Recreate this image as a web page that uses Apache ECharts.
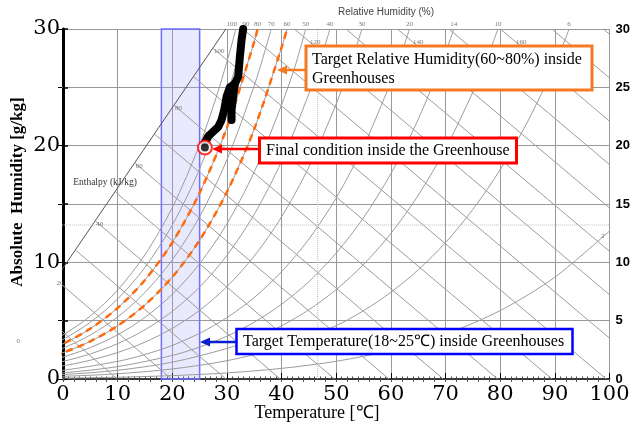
<!DOCTYPE html>
<html>
<head>
<meta charset="utf-8">
<script src="https://cdn.jsdelivr.net/npm/echarts@6/dist/echarts.min.js"></script>
<style>
  html, body { margin: 0; padding: 0; background: #fff; }
  #chart { width: 633px; height: 430px; }
</style>
</head>
<body>
<div id="chart"></div>
<script>
// relative humidity curves [temperature C, absolute humidity g/kg]
const rh100 = [[-10,1.76],[-5,2.60],[0,3.78],[5,5.40],[10,7.63],[15,10.65],[20,14.70],[25,20.08],[28,24.10],[30,27.20],[31,28.88],[31.6,30]]
const rh90 = [[-10,1.59],[-5,2.34],[0,3.40],[5,4.86],[10,6.86],[15,9.57],[20,13.20],[25,18.02],[30,24.38],[32,27.45],[33.5,30]]
const rh80 = [[-10,1.41],[-5,2.08],[0,3.02],[5,4.32],[10,6.09],[15,8.49],[20,11.70],[25,15.96],[30,21.57],[35,28.92],[35.6,30]]
const rh70 = [[-10,1.24],[-5,1.82],[0,2.64],[5,3.77],[10,5.32],[15,7.42],[20,10.21],[25,13.92],[30,18.80],[35,25.16],[37,28.21],[38.1,30]]
const rh60 = [[-10,1.06],[-5,1.56],[0,2.26],[5,3.23],[10,4.56],[15,6.35],[20,8.74],[25,11.90],[30,16.04],[35,21.44],[40,28.43],[41,30]]
const rh50 = [[-10,0.88],[-5,1.30],[0,1.88],[5,2.69],[10,3.79],[15,5.28],[20,7.26],[25,9.88],[30,13.31],[35,17.76],[40,23.51],[42.5,26.86],[44.4,30]]
const rh40 = [[-10,0.71],[-5,1.04],[0,1.51],[5,2.15],[10,3.03],[15,4.22],[20,5.80],[25,7.88],[30,10.60],[35,14.13],[40,18.67],[45,24.47],[47,27.19],[48.85,30]]
const rh30 = [[-10,0.53],[0,1.13],[5,1.61],[10,2.27],[15,3.16],[20,4.34],[25,5.89],[30,7.92],[35,10.54],[40,13.90],[45,18.18],[50,23.60],[52.5,26.83],[54.7,30]]
const rh20 = [[-10,0.35],[0,0.75],[10,1.51],[15,2.10],[20,2.88],[25,3.92],[30,5.26],[35,6.99],[40,9.20],[45,12.00],[50,15.54],[55,19.96],[60,25.47],[62,28.02],[63.4,30]]
const rh14 = [[-10,0.25],[0,0.53],[10,1.06],[20,2.02],[25,2.74],[30,3.67],[35,4.87],[40,6.41],[45,8.35],[50,10.80],[55,13.83],[60,17.61],[65,22.27],[70,28.00],[71.5,30]]
const rh10 = [[-10,0.18],[0,0.38],[10,0.75],[20,1.44],[30,2.62],[35,3.47],[40,4.56],[45,5.94],[50,7.67],[55,9.82],[60,12.48],[65,15.75],[70,19.75],[75,24.60],[77.5,27.43],[79.6,30]]
const rh6 = [[-10,0.11],[0,0.23],[10,0.45],[20,0.86],[30,1.57],[40,2.73],[50,4.58],[55,5.86],[60,7.43],[65,9.36],[70,11.70],[75,14.54],[80,17.95],[85,22.05],[90,26.93],[92.6,30]]
const rh2 = [[-10,0.04],[0,0.08],[10,0.15],[20,0.29],[30,0.52],[40,0.91],[50,1.52],[60,2.46],[70,3.85],[80,5.87],[90,8.73],[100,12.69]]
const rhLevels = ['100','90','80','70','60','50','40','30','20','14','10','6','2']
const rhCurves = [rh100, rh90, rh80, rh70, rh60, rh50, rh40, rh30, rh20, rh14, rh10, rh6, rh2]

// enthalpy lines (kJ/kg): upper end (scale line / top edge) and lower end
const enthalpyValues = [0,10,20,30,40,50,60,70,80,90,100,110,120,130,140,150,160,170,180]
const enthalpyTop = [[-8.6,3.46],[-4.92,6.00],[-1.28,8.51],[2.37,11.02],[6.00,13.52],[9.63,16.01],[13.22,18.49],[16.82,20.96],[20.40,23.43],[23.97,25.88],[27.52,28.32],
  [32.93,30],[42.35,30],[51.77,30],[61.19,30],[70.61,30],[80.03,30],[89.45,30],[98.87,30]]
const enthalpyBottom = [[0,0],[9.94,0],[19.88,0],[29.82,0],[39.76,0],[49.70,0],[59.64,0],[69.58,0],[79.52,0],[89.46,0],[99.40,0],
  [100,3.50],[100,7.22],[100,10.94],[100,14.66],[100,18.38],[100,22.10],[100,25.80],[100,29.55]]
const enthalpyScale = [[-10.2,2.5],[29.8,30]]

// measured greenhouse trajectory
const trajMain = [[32.96,30],[32.67,29.05],[32.36,27.6],[32.05,25.9],[31.44,25.3],[30.53,25.0],[29.93,24.2],[29.49,23.05],[29.01,22.2],[28.39,21.6],[27.48,21.2],[26.56,20.8],[25.96,20.25]]
const trajBranch = [[31.44,25.3],[31.13,24.2],[30.84,23.05],[30.84,22.2]]
const finalPoint = [25.96, 19.84]

const targetTemp = [18, 25]
const targetRH = ['80', '60']

const gray = '#9c9c9c'
const orange = '#F47A22'

function curve(data, extra) {
  return Object.assign({
    type: 'line', data: data, symbol: 'none', silent: true, clip: false,
    smooth: 0.3,
    lineStyle: { color: gray, width: 1 }, z: 2
  }, extra || {})
}

const series = []
rhCurves.forEach(c => series.push(curve(c)))
enthalpyValues.forEach((h, i) => series.push(curve([enthalpyBottom[i], enthalpyTop[i]], { smooth: false })))
series.push(curve(enthalpyScale, { smooth: false, lineStyle: { color: '#555', width: 1 } }))
// extension of horizontal grid + dotted lines of the base chart
;[5, 15, 25].forEach(w => series.push(curve([[-10, w], [0, w]], { smooth: false, lineStyle: { color: '#888', width: 1 } })))
series.push(curve([[46.6, 0], [46.6, 30]], { smooth: false, lineStyle: { color: '#bbb', width: 1, type: 'dotted' } }))
series.push(curve([[-6, 13.2], [100, 13.2]], { smooth: false, lineStyle: { color: '#bbb', width: 1, type: 'dotted' } }))

// rh labels at the top edge
series.push({
  type: 'scatter', silent: true, symbolSize: 1, itemStyle: { color: 'transparent' }, z: 3,
  data: rhCurves.map((c, i) => {
    const p = c[c.length - 1]
    const item = { value: p, name: rhLevels[i] }
    if (rhLevels[i] === '2') item.label = { position: [-8, 2] }
    if (rhLevels[i] === '100') item.label = { offset: [-4, 0] }
    return item
  }),
  label: { show: true, position: 'top', distance: 1, formatter: '{b}', fontSize: 7, color: '#555', fontFamily: 'Liberation Serif' }
})
// enthalpy labels
series.push({
  type: 'scatter', silent: true, symbolSize: 1, itemStyle: { color: 'transparent' }, z: 3, clip: false,
  data: enthalpyValues.map((h, i) => ({ value: enthalpyTop[i], name: String(h) })).filter(d => +d.name % 20 === 0 && +d.name <= 100),
  label: { show: true, position: [1, 0], formatter: '{b}', fontSize: 7, color: '#555', fontFamily: 'Liberation Serif' }
})
series.push({
  type: 'scatter', silent: true, symbolSize: 1, itemStyle: { color: 'transparent' }, z: 3,
  data: enthalpyValues.map((h, i) => ({ value: enthalpyTop[i], name: String(h) })).filter(d => ['120', '140', '160'].includes(d.name)),
  label: { show: true, position: [16, 10], formatter: '{b}', fontSize: 7, color: '#555', fontFamily: 'Liberation Serif' }
})

// target temperature band
series.push({
  type: 'line', data: [], silent: true, z: 4,
  markArea: {
    silent: true,
    itemStyle: { color: 'rgba(160,160,255,0.22)', borderColor: '#6E6EFF', borderWidth: 1.5 },
    data: [[{ xAxis: targetTemp[0], yAxis: 0 }, { xAxis: targetTemp[1], yAxis: 30 }]]
  }
})
// target rh curves
const rhByLevel = {}
rhLevels.forEach((l, i) => { rhByLevel[l] = rhCurves[i] })
targetRH.forEach(l => series.push(curve(rhByLevel[l], { z: 5, lineStyle: { color: '#FF6A10', width: 2.5, type: [7, 5] } })))

// trajectory
const trajStyle = { color: '#000', width: 8, cap: 'round', join: 'round' }
series.push(curve(trajMain, { smooth: false, z: 6, lineStyle: trajStyle }))
series.push(curve(trajBranch, { smooth: false, z: 6, lineStyle: trajStyle }))
series.push({ type: 'scatter', silent: true, z: 7, data: [finalPoint], symbolSize: 14, itemStyle: { color: '#fff', borderColor: '#f00', borderWidth: 2 } })
series.push({ type: 'scatter', silent: true, z: 8, data: [finalPoint], symbolSize: 8, itemStyle: { color: '#000' } })

const serif = '"Liberation Serif", "Times New Roman", serif'
const option = {
  animation: false,
  backgroundColor: '#fff',
  grid: { left: 63, right: 23, top: 29, bottom: 51 },
  xAxis: [{
    type: 'value', min: 0, max: 100, interval: 10,
    axisLine: { lineStyle: { color: '#000', width: 1.5 } },
    axisTick: { inside: true, length: 6, lineStyle: { color: '#000' } },
    minorTick: { show: true, splitNumber: 10, length: 2.5, lineStyle: { color: '#444' } },
    splitLine: { lineStyle: { color: '#999' } },
    axisLabel: { fontFamily: 'DejaVu Serif', fontSize: 21, color: '#000', margin: 5 }
  }, {
    type: 'value', position: 'top', min: 0, max: 100, interval: 2,
    axisLine: { lineStyle: { color: '#333', width: 1 } },
    axisTick: { inside: true, length: 3, lineStyle: { color: '#555' } },
    axisLabel: { show: false }, splitLine: { show: false }
  }],
  yAxis: [{
    type: 'value', min: 0, max: 30, interval: 5,
    axisLine: { show: true, lineStyle: { color: '#000', width: 3 } },
    axisTick: { show: true, inside: true, length: 5, lineStyle: { color: '#000', width: 1.5 } },
    splitLine: { lineStyle: { color: '#999' } },
    axisLabel: { formatter: v => (v % 10 === 0 ? String(v) : ''), fontFamily: 'DejaVu Serif', fontSize: 21, color: '#000', margin: 3 }
  }, {
    type: 'value', position: 'right', min: 0, max: 30, interval: 5,
    axisLine: { show: true, lineStyle: { color: '#000', width: 2.5 } },
    axisTick: { show: true, inside: true, length: 5, lineStyle: { color: '#000' } },
    splitLine: { show: false },
    axisLabel: { fontFamily: 'Liberation Sans', fontWeight: 'bold', fontSize: 13, color: '#000', margin: 6 }
  }],
  series: series,
  graphic: [
    { type: 'text', x: 18, y: 192, rotation: Math.PI / 2, z: 50, style: { text: 'Absolute  Humidity [g/kg]', font: 'bold 17px ' + serif, fill: '#000', align: 'center', verticalAlign: 'middle' } },
    { type: 'text', x: 317, y: 413, z: 50, style: { text: 'Temperature [℃]', font: '18px ' + serif, fill: '#000', align: 'center', verticalAlign: 'middle' } },
    { type: 'text', x: 386, y: 12, z: 50, style: { text: 'Relative Humidity (%)', font: '10px "Liberation Sans"', fill: '#444', align: 'center', verticalAlign: 'middle' } },
    { type: 'text', x: 105, y: 182, z: 50, style: { text: 'Enthalpy (kJ/kg)', font: '9.5px ' + serif, fill: '#333', align: 'center', verticalAlign: 'middle' } },

    { type: 'rect', z: 60, shape: { x: 306, y: 46, width: 286, height: 44 }, style: { fill: '#fff', stroke: orange, lineWidth: 3 } },
    { type: 'text', z: 61, x: 312, y: 60, style: { text: 'Target Relative Humidity(60~80%) inside', font: '16px ' + serif, fill: '#000', verticalAlign: 'middle' } },
    { type: 'text', z: 61, x: 312, y: 79, style: { text: 'Greenhouses', font: '16px ' + serif, fill: '#000', verticalAlign: 'middle' } },
    { type: 'line', z: 60, shape: { x1: 305, y1: 70, x2: 284, y2: 70 }, style: { stroke: orange, lineWidth: 2.5 } },
    { type: 'polygon', z: 60, shape: { points: [[277, 70], [287, 65.5], [287, 74.5]] }, style: { fill: orange } },

    { type: 'rect', z: 60, shape: { x: 259.5, y: 138, width: 257, height: 25 }, style: { fill: '#fff', stroke: '#f00', lineWidth: 3 } },
    { type: 'text', z: 61, x: 266, y: 151, style: { text: 'Final condition inside the Greenhouse', font: '16px ' + serif, fill: '#000', verticalAlign: 'middle' } },
    { type: 'line', z: 60, shape: { x1: 258, y1: 149, x2: 220, y2: 149 }, style: { stroke: '#f00', lineWidth: 2.5 } },
    { type: 'polygon', z: 60, shape: { points: [[212, 149], [222, 144.5], [222, 153.5]] }, style: { fill: '#f00' } },

    { type: 'rect', z: 60, shape: { x: 236.5, y: 329, width: 336, height: 25 }, style: { fill: '#fff', stroke: '#0000ff', lineWidth: 2.5 } },
    { type: 'text', z: 61, x: 243, y: 342, style: { text: 'Target Temperature(18~25℃) inside Greenhouses', font: '16px ' + serif, fill: '#000', verticalAlign: 'middle' } },
    { type: 'line', z: 60, shape: { x1: 236, y1: 342, x2: 208, y2: 342 }, style: { stroke: '#0a1fcf', lineWidth: 2.5 } },
    { type: 'polygon', z: 60, shape: { points: [[200, 342], [210, 337.5], [210, 346.5]] }, style: { fill: '#0a1fcf' } }
  ]
}

const myChart = echarts.init(document.getElementById('chart'))
myChart.setOption(option)
</script>
</body>
</html>
